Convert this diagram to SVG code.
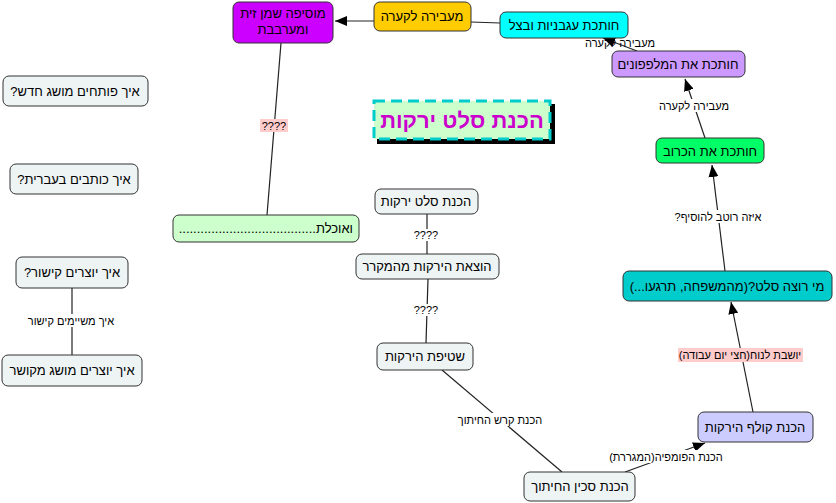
<svg xmlns="http://www.w3.org/2000/svg" width="836" height="503" viewBox="0 0 836 503">
<style>
text{font-family:"Liberation Sans","DejaVu Sans",sans-serif;fill:#000;direction:rtl}
.n rect{stroke:#333;stroke-width:1}
.n text{font-size:13px;text-anchor:middle}
.c line{stroke:#222;stroke-width:1.2}
.lbl{font-size:11px;text-anchor:middle}
.gray{fill:#eef3f4}
</style>
<defs>
<marker id="ah" viewBox="0 0 12 10" refX="12" refY="5" markerWidth="12" markerHeight="10" markerUnits="userSpaceOnUse" orient="auto">
<path d="M0,0 L12,5 L0,10 z" fill="#000"/>
</marker>
</defs>
<rect width="836" height="503" fill="#fff"/>
<g id="connectors" class="c">
<line x1="374" y1="21" x2="335" y2="21" marker-end="url(#ah)"/>
<line x1="500" y1="23" x2="471" y2="22"/>
<line x1="637" y1="51" x2="603" y2="38" marker-end="url(#ah)"/>
<line x1="705" y1="138" x2="685" y2="79" marker-end="url(#ah)"/>
<line x1="725" y1="271" x2="712" y2="165" marker-end="url(#ah)"/>
<line x1="753" y1="412" x2="731" y2="302" marker-end="url(#ah)"/>
<line x1="625" y1="472" x2="705" y2="443" marker-end="url(#ah)"/>
<line x1="442" y1="370" x2="562" y2="472"/>
<line x1="428" y1="279" x2="426" y2="343"/>
<line x1="427" y1="214" x2="427" y2="254"/>
<line x1="267" y1="215" x2="281" y2="43"/>
<line x1="72" y1="288" x2="72" y2="355"/>
<rect x="660" y="99" width="68" height="13" fill="#fff"/>
<text class="lbl" x="694" y="110">מעבירה לקערה</text>
<text class="lbl" x="620" y="47">מעבירה לקערה</text>
<rect x="673" y="210" width="90" height="13" fill="#fff"/>
<text class="lbl" x="718" y="221">איזה רוטב להוסיף?</text>
<rect x="678" y="348" width="125" height="14" fill="#ffcccc"/>
<text class="lbl" x="740" y="359">יושבת לנוח(חצי יום עבודה)</text>
<rect x="610" y="450" width="112" height="13" fill="#fff"/>
<text class="lbl" x="666" y="461">הכנת הפומפיה(המגררת)</text>
<rect x="456" y="413" width="88" height="13" fill="#fff"/>
<text class="lbl" x="500" y="424">הכנת קרש החיתוך</text>
<rect x="260" y="119" width="28" height="13" fill="#ffcccc"/>
<text class="lbl" x="274" y="130">????</text>
<rect x="412" y="229" width="28" height="12" fill="#fff"/>
<text class="lbl" x="426" y="239">????</text>
<rect x="412" y="304" width="28" height="12" fill="#fff"/>
<text class="lbl" x="426" y="314">????</text>
<rect x="26" y="314" width="90" height="13" fill="#fff"/>
<text class="lbl" x="71" y="325">איך משיימים קישור</text>
</g>
<g id="title">
<rect x="377" y="104" width="178" height="40" fill="#000"/>
<rect x="374" y="101" width="176" height="38" fill="#ccffcc" stroke="#00cccc" stroke-width="3" stroke-dasharray="11,6"/>
<text x="462" y="128" style="font-size:22px;font-weight:bold;fill:#cc00cc;text-anchor:middle">הכנת סלט ירקות</text>
</g>
<g id="n_oil" class="n"><rect x="233" y="2" width="100" height="41" rx="6" fill="#cc00ff"/><text x="283" y="18">מוסיפה שמן זית</text><text x="283" y="34">ומערבבת</text></g>
<g id="n_bowl" class="n"><rect x="374" y="2" width="97" height="29" rx="6" fill="#ffcc00"/><text x="422" y="21">מעבירה לקערה</text></g>
<g id="n_tomato" class="n"><rect x="500" y="12" width="128" height="26" rx="6" fill="#00ffff"/><text x="564" y="30">חותכת עגבניות ובצל</text></g>
<g id="n_cucumber" class="n"><rect x="612" y="51" width="133" height="26" rx="6" fill="#cc99ff"/><text x="678" y="69">חותכת את המלפפונים</text></g>
<g id="n_cabbage" class="n"><rect x="656" y="138" width="108" height="25" rx="6" fill="#00ff66"/><text x="710" y="156">חותכת את הכרוב</text></g>
<g id="n_who" class="n"><rect x="623" y="271" width="209" height="30" rx="6" fill="#00cccc"/><text x="727" y="291">מי רוצה סלט?(מהמשפחה, תרגעו...)</text></g>
<g id="n_peeler" class="n"><rect x="698" y="412" width="115" height="30" rx="6" fill="#ccccff"/><text x="755" y="432">הכנת קולף הירקות</text></g>
<g id="n_knife" class="n"><rect x="524" y="472" width="111" height="29" rx="6" class="gray"/><text x="580" y="491">הכנת סכין החיתוך</text></g>
<g id="n_wash" class="n"><rect x="377" y="343" width="96" height="27" rx="6" class="gray"/><text x="425" y="361">שטיפת הירקות</text></g>
<g id="n_fridge" class="n"><rect x="356" y="254" width="143" height="25" rx="6" class="gray"/><text x="427" y="271">הוצאת הירקות מהמקרר</text></g>
<g id="n_salad" class="n"><rect x="375" y="189" width="103" height="25" rx="6" class="gray"/><text x="426" y="206">הכנת סלט ירקות</text></g>
<g id="n_eat" class="n"><rect x="173" y="215" width="186" height="27" rx="6" fill="#ccffcc"/><text x="353" y="233" style="text-anchor:start">ואוכלת......................................</text></g>
<g id="n_q1" class="n"><rect x="3" y="76" width="145" height="30" rx="6" class="gray"/><text x="75" y="96">איך פותחים מושג חדש?</text></g>
<g id="n_q2" class="n"><rect x="10" y="164" width="128" height="30" rx="6" class="gray"/><text x="74" y="184">איך כותבים בעברית?</text></g>
<g id="n_q3" class="n"><rect x="16" y="257" width="112" height="31" rx="6" class="gray"/><text x="72" y="277">איך יוצרים קישור?</text></g>
<g id="n_q4" class="n"><rect x="2" y="355" width="140" height="31" rx="6" class="gray"/><text x="72" y="375">איך יוצרים מושג מקושר</text></g>
</svg>
